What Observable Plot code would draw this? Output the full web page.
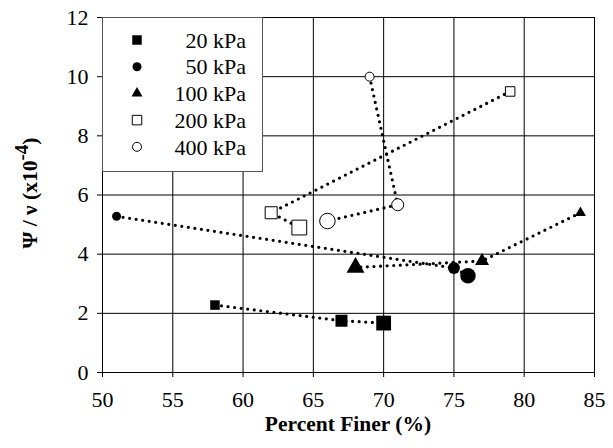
<!DOCTYPE html>
<html>
<head>
<meta charset="utf-8">
<script src="https://cdn.jsdelivr.net/npm/d3@7"></script>
<script src="https://cdn.jsdelivr.net/npm/@observablehq/plot@0.6"></script>
<style>
  html, body { margin: 0; padding: 0; background: #fff; }
  #chart { width: 613px; height: 448px; }
</style>
</head>
<body>
<div id="chart"></div>
<script>
// ---- data ----
const series = ["20 kPa", "50 kPa", "100 kPa", "200 kPa", "400 kPa"];
const stage = [1, 2, 3]; // successive stages along each dotted path (marker grows)

const x20 = [58, 67, 70];
const y20 = [2.28, 1.75, 1.67];
const x50 = [51, 75, 76];
const y50 = [5.28, 3.53, 3.27];
const x100 = [84, 77, 68];
const y100 = [5.4, 3.77, 3.55];
const x200 = [79, 62, 64];
const y200 = [9.5, 5.4, 4.9];
const x400 = [69, 71, 66];
const y400 = [10.0, 5.67, 5.12];

const xTicks = [50, 55, 60, 65, 70, 75, 80, 85];
const yTicks = [0, 2, 4, 6, 8, 10, 12];

// ---- styling (not data) ----
const xs = [x20, x50, x100, x200, x400];
const ys = [y20, y50, y100, y200, y400];
const symbolOf = {"20 kPa": "square", "50 kPa": "circle", "100 kPa": "triangle", "200 kPa": "square", "400 kPa": "circle"};
const filledOf = {"20 kPa": true, "50 kPa": true, "100 kPa": true, "200 kPa": false, "400 kPa": false};
const extent = {circle: [9, 12, 15.5], square: [9.5, 12, 14.8], triangle: [11, 14, 18]};
function radiusFor(sym, px) {
  if (sym === "circle") return px / 2;
  if (sym === "square") return px / Math.sqrt(Math.PI);
  return Math.sqrt(Math.sqrt(3) * px * px / 4 / Math.PI);
}

const rows = [];
series.forEach((s, i) => {
  stage.forEach((st, j) => {
    rows.push({series: s, stage: st, x: xs[i][j], y: ys[i][j]});
  });
});
const rOf = d => radiusFor(symbolOf[d.series], extent[symbolOf[d.series]][d.stage - 1]);

const FONT = "Liberation Serif";
const W = 613, H = 448;

const chart = Plot.plot({
  width: W,
  height: H,
  marginLeft: 102,
  marginRight: 19,
  marginTop: 17,
  marginBottom: 76,
  style: {fontFamily: FONT, fontSize: "22px", background: "white", color: "black"},
  x: {domain: [50, 85]},
  y: {domain: [0, 12]},
  r: {type: "identity"},
  symbol: {type: "identity"},
  marks: [
    Plot.gridX({ticks: xTicks, stroke: "#000", strokeOpacity: 1}),
    Plot.gridY({ticks: yTicks, stroke: "#000", strokeOpacity: 1}),
    Plot.frame({stroke: "#000"}),
    Plot.axisX({ticks: xTicks, tickSize: 5, tickPadding: 14, label: null, fontSize: 22}),
    Plot.axisY({ticks: yTicks, tickSize: 5, tickPadding: 9, label: null, fontSize: 22}),
    Plot.line(rows, {
      x: "x", y: "y", z: "series",
      stroke: "#000", strokeWidth: 3.2,
      strokeDasharray: "0 6.6", strokeLinecap: "round"
    }),
    Plot.dot(rows.filter(d => filledOf[d.series]), {
      x: "x", y: "y",
      symbol: d => symbolOf[d.series],
      r: rOf,
      fill: "#000", stroke: "none"
    }),
    Plot.dot(rows.filter(d => !filledOf[d.series]), {
      x: "x", y: "y",
      symbol: d => symbolOf[d.series],
      r: rOf,
      fill: "#fff", stroke: "#000", strokeWidth: 1
    })
  ]
});

document.getElementById("chart").appendChild(chart);

const svg = d3.select(chart);

svg.append("text")
  .attr("x", 348).attr("y", 431)
  .attr("text-anchor", "middle")
  .attr("font-family", FONT).attr("font-size", 21.5).attr("font-weight", "bold")
  .attr("fill", "#000")
  .text("Percent Finer (%)");

const yl = svg.append("text")
  .attr("transform", "translate(37,193) rotate(-90)")
  .attr("text-anchor", "middle")
  .attr("font-family", FONT).attr("font-size", 21.5).attr("font-weight", "bold")
  .attr("fill", "#000");
yl.append("tspan").text("Ψ / ν (x10");
yl.append("tspan").attr("dy", -9).attr("font-size", 19).text("-4");
yl.append("tspan").attr("dy", 9).text(")");

const lg = svg.append("g");
lg.append("rect")
  .attr("x", 102.5).attr("y", 17.5).attr("width", 160).attr("height", 154)
  .attr("fill", "#fff").attr("stroke", "#555").attr("stroke-width", 1);
const symMap = {circle: d3.symbolCircle, square: d3.symbolSquare, triangle: d3.symbolTriangle};
series.forEach((s, i) => {
  const cy = 40 + i * 26.7;
  const sym = symbolOf[s];
  const r = radiusFor(sym, extent[sym][0]);
  lg.append("path")
    .attr("transform", `translate(137,${cy})`)
    .attr("d", d3.symbol(symMap[sym], r * r * Math.PI)())
    .attr("fill", filledOf[s] ? "#000" : "#fff")
    .attr("stroke", filledOf[s] ? "none" : "#000")
    .attr("stroke-width", 1);
  lg.append("text")
    .attr("x", 246).attr("y", cy).attr("dy", "0.35em")
    .attr("text-anchor", "end")
    .attr("font-family", FONT).attr("font-size", 22)
    .attr("fill", "#000")
    .text(s);
});
</script>
</body>
</html>
